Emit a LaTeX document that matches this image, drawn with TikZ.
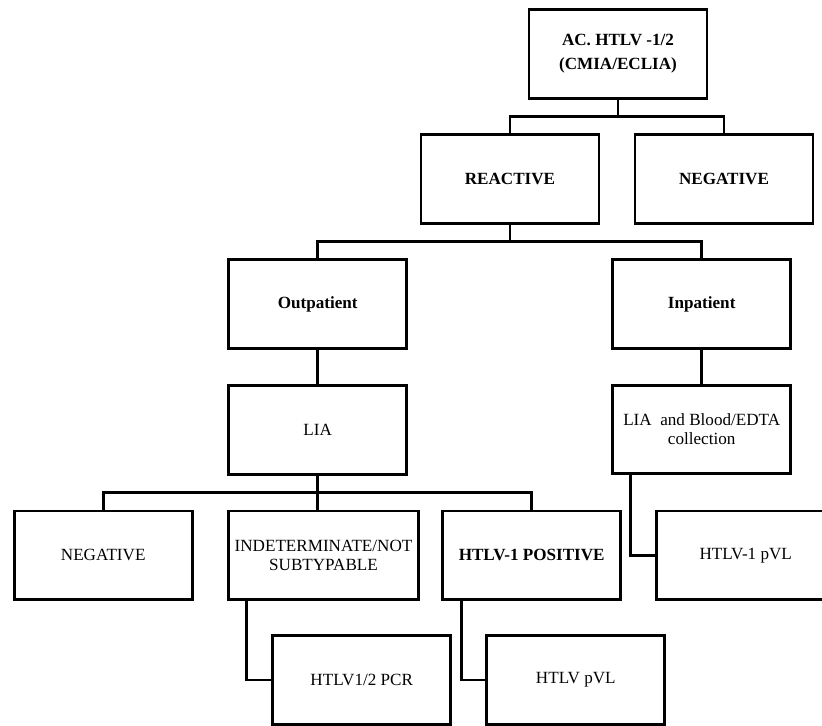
\documentclass[tikz,border=0pt]{standalone}
\usepackage{fontspec}
\setmainfont{Liberation Serif}
\usetikzlibrary{positioning,calc}

\begin{document}
\begin{tikzpicture}[x=0.03cm,y=-0.03cm,
    box/.style={draw=black,line width=2.4pt,minimum width=5.34cm,minimum height=2.66cm,align=center,inner sep=1pt,outer sep=0pt,font=\fontsize{14.6}{16.2}\selectfont},
    boldbox/.style={box,font=\fontsize{14.6}{16.2}\selectfont\bfseries},
    link/.style={draw=black,line width=2.4pt}]
    \useasboundingbox (0,0) rectangle (822,725);
    \clip (0,0) rectangle (822,725);

    % Screening
    \node[boldbox,font=\fontsize{14.6}{20.5}\selectfont\bfseries] (screen) at (618,53.8) {AC. HTLV -1/2\\(CMIA/ECLIA)};
    \node[boldbox] (react) at (510,178.9) {REACTIVE};
    \node[boldbox] (negtop) at (724,178.9) {NEGATIVE};

    % Patient type
    \node[boldbox] (outpat) at (317.7,304.2) {Outpatient};
    \node[boldbox] (inpat) at (701.7,304.2) {Inpatient};
    \node[box] (lia) at (317.7,430) {LIA};
    \node[box] (liablood) at (701.7,429.5) {LIA\ \ and Blood/EDTA\\collection};

    % Results
    \node[box] (negbot) at (103.2,555.3) {NEGATIVE};
    \node[box,minimum width=5.69cm] (indet) at (323.5,555.3) {INDETERMINATE/NOT\\SUBTYPABLE};
    \node[boldbox] (pos) at (531.7,555.3) {HTLV-1 POSITIVE};
    \node[box] (pvlone) at (745.7,555.3) {HTLV-1 pVL};
    \node[box] (pcr) at (361.7,680) {HTLV1/2 PCR};
    \node[box] (pvl) at (575.8,680) {HTLV pVL};

    % Connectors
    \draw[link] (react.north) -- ++(0,-18.3) coordinate (forka) -| (negtop.north);
    \draw[link] (screen.south) -- (screen.south |- forka);
    \draw[link] (outpat.north) -- ++(0,-18.3) coordinate (forkb) -| (inpat.north);
    \draw[link] (react.south) -- (react.south |- forkb);
    \draw[link] (outpat) -- (lia);
    \draw[link] (inpat) -- (liablood);
    \draw[link] (lia.south) -- (lia.south |- indet.north);
    \draw[link] (negbot.north) -- ++(0,-18.4) -| (pos.north);
    \draw[link] ($(indet.south west)+(18,0)$) |- (pcr.west);
    \draw[link] ($(pos.south west)+(18.6,0)$) |- (pvl.west);
    \draw[link] ($(liablood.south west)+(18,0)$) |- (pvlone.west);
\end{tikzpicture}
\end{document}
